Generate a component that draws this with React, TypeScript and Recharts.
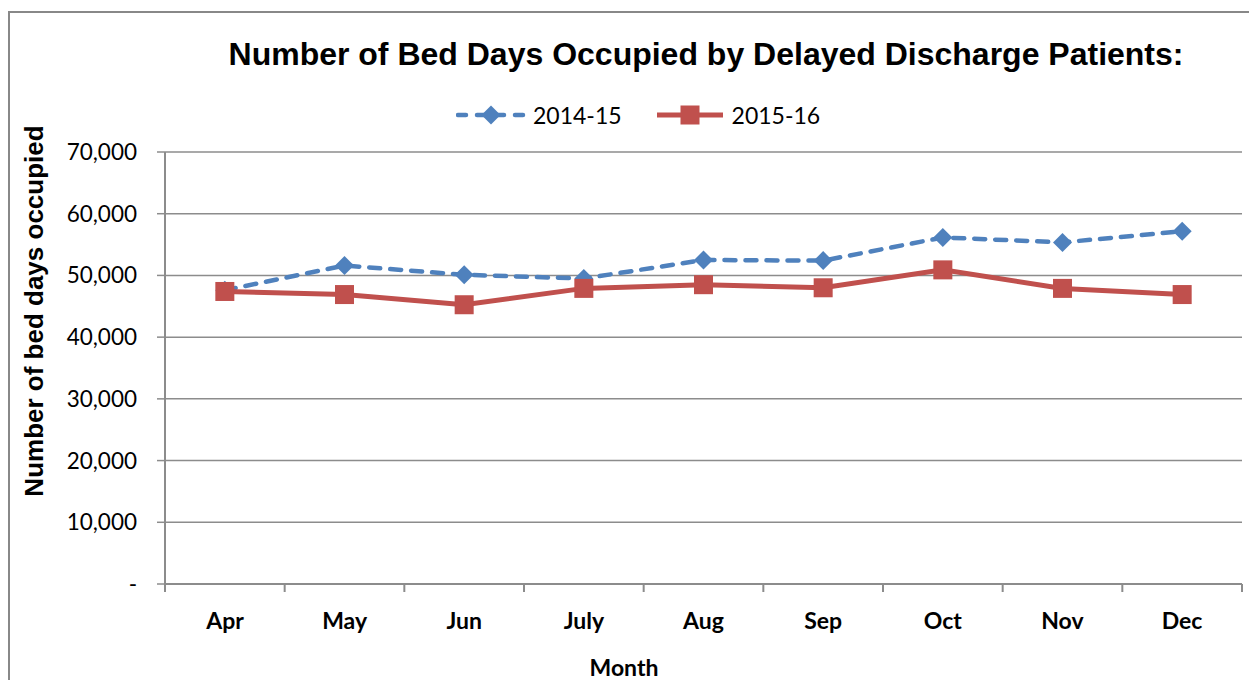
import { CartesianGrid, Legend, Line, LineChart, XAxis, YAxis } from "recharts";

// Valores
const MONTHS = ["Apr", "May", "Jun", "July", "Aug", "Sep", "Oct", "Nov", "Dec"];
const BEDS_2014_15 = [47600, 51600, 50100, 49500, 52500, 52400, 56150, 55350, 57150];
const BEDS_2015_16 = [47400, 46900, 45250, 47900, 48500, 48000, 50900, 47900, 46900];
const Y_TICKS = [0, 10000, 20000, 30000, 40000, 50000, 60000, 70000];
// limites entre as categorias (marcas do eixo X)
const X_BOUNDS = [0, 1, 2, 3, 4, 5, 6, 7, 8, 9];

const BLUE = "#4F81BD";
const RED = "#C0504D";
const AXIS = "#8c8c8c";
const TICK_FONT = "Lato, 'Open Sans', sans-serif";
const TITLE_FONT = "'Liberation Sans', Arial, sans-serif";

const SERIES = [
  { key: "s1415", name: "2014-15", color: BLUE, dash: "11 10", marker: "diamond" },
  { key: "s1516", name: "2015-16", color: RED, dash: undefined, marker: "square" },
];

const data = MONTHS.map((m, i) => ({
  month: m,
  pos: i + 0.5,
  s1415: BEDS_2014_15[i],
  s1516: BEDS_2015_16[i],
}));

const fmtY = (v: number) =>
  v === 0 ? "-" : new Intl.NumberFormat("en-GB").format(v);

function Diamond({ cx, cy, r = 9.5, fill }: any) {
  if (cx == null || cy == null) return null;
  return (
    <path
      d={`M${cx},${cy - r} L${cx + r},${cy} L${cx},${cy + r} L${cx - r},${cy} Z`}
      fill={fill}
    />
  );
}

function Square({ cx, cy, s = 19, fill }: any) {
  if (cx == null || cy == null) return null;
  return <rect x={cx - s / 2} y={cy - s / 2} width={s} height={s} fill={fill} />;
}

function LegendContent() {
  return (
    <div
      style={{
        display: "flex",
        alignItems: "center",
        height: 28,
        paddingLeft: 456,
        fontFamily: TICK_FONT,
        fontSize: 23,
        color: "#000",
      }}
    >
      {SERIES.map((s, i) => (
        <div
          key={s.key}
          style={{ display: "flex", alignItems: "center", marginRight: i === 0 ? 33 : 0 }}
        >
          <svg width={70} height={24} style={{ marginRight: 7 }}>
            <line
              x1={2}
              x2={68}
              y1={12}
              y2={12}
              stroke={s.color}
              strokeWidth={s.dash ? 4.5 : 5}
              strokeDasharray={s.dash ? "8 11" : undefined}
              strokeLinecap={s.dash ? "round" : "butt"}
            />
            {s.marker === "diamond" ? (
              <Diamond cx={35} cy={12} fill={s.color} />
            ) : (
              <Square cx={35} cy={12} fill={s.color} />
            )}
          </svg>
          <span>{s.name}</span>
        </div>
      ))}
    </div>
  );
}

export default function App() {
  return (
    <div
      style={{
        position: "absolute",
        left: 0,
        top: 0,
        width: 1249,
        height: 680,
        background: "#fff",
        overflow: "hidden",
      }}
    >
      <LineChart
        width={1249}
        height={680}
        data={data}
        margin={{ top: 152, right: 7, bottom: 0, left: 10 }}
      >
        <CartesianGrid
          vertical={false}
          stroke={AXIS}
          strokeWidth={1.5}
          xAxisId={0}
        />
        <XAxis
          xAxisId={0}
          type="number"
          dataKey="pos"
          domain={[0, 9]}
          ticks={X_BOUNDS}
          interval={0}
          tick={() => <g />}
          tickSize={8}
          tickMargin={0}
          height={8}
          axisLine={{ stroke: AXIS, strokeWidth: 2 }}
          tickLine={{ stroke: AXIS, strokeWidth: 2 }}
        />
        <XAxis
          xAxisId={1}
          dataKey="month"
          type="category"
          padding={{ left: 60, right: 60 }}
          interval={0}
          height={88}
          axisLine={false}
          tickLine={false}
          tickSize={0}
          tickMargin={21}
          tick={{ fontFamily: TICK_FONT, fontSize: 23, fontWeight: 700, fill: "#000" }}
        />
        <YAxis
          width={155}
          domain={[0, 70000]}
          ticks={Y_TICKS}
          interval={0}
          tickFormatter={fmtY}
          tickSize={8}
          tickMargin={20}
          axisLine={{ stroke: AXIS, strokeWidth: 2 }}
          tickLine={{ stroke: AXIS, strokeWidth: 1.5 }}
          tick={{ fontFamily: TICK_FONT, fontSize: 22.5, fill: "#000" }}
        />
        <Legend
          verticalAlign="middle"
          align="center"
          content={LegendContent}
          wrapperStyle={{ top: 101, left: 0, width: 1249 }}
        />
        <Line
          xAxisId={0}
          type="linear"
          dataKey="s1415"
          name="2014-15"
          stroke={BLUE}
          strokeWidth={4.5}
          strokeDasharray="11 10"
          strokeLinecap="round"
          dot={(p: any) => <Diamond key={`d${p.index}`} cx={p.cx} cy={p.cy} fill={BLUE} />}
          activeDot={false}
          isAnimationActive={false}
        />
        <Line
          xAxisId={0}
          type="linear"
          dataKey="s1516"
          name="2015-16"
          stroke={RED}
          strokeWidth={5}
          dot={(p: any) => <Square key={`s${p.index}`} cx={p.cx} cy={p.cy} fill={RED} />}
          activeDot={false}
          isAnimationActive={false}
        />
      </LineChart>
      <svg
        width={1249}
        height={680}
        style={{ position: "absolute", left: 0, top: 0, pointerEvents: "none" }}
      >
        <path d="M9,680 V12 H1249" fill="none" stroke="#888" strokeWidth={2} />
        <text
          x={706}
          y={65}
          textAnchor="middle"
          fontFamily={TITLE_FONT}
          fontSize={32}
          fontWeight={700}
          fill="#000"
        >
          Number of Bed Days Occupied by Delayed Discharge Patients:
        </text>
        <text
          x={43}
          y={311}
          transform="rotate(-90 43 311)"
          textAnchor="middle"
          fontFamily={TITLE_FONT}
          fontSize={26}
          fontWeight={700}
          fill="#000"
        >
          Number of bed days occupied
        </text>
        <text
          x={624}
          y={676}
          textAnchor="middle"
          fontFamily={TICK_FONT}
          fontSize={23}
          fontWeight={700}
          fill="#000"
        >
          Month
        </text>
      </svg>
    </div>
  );
}
